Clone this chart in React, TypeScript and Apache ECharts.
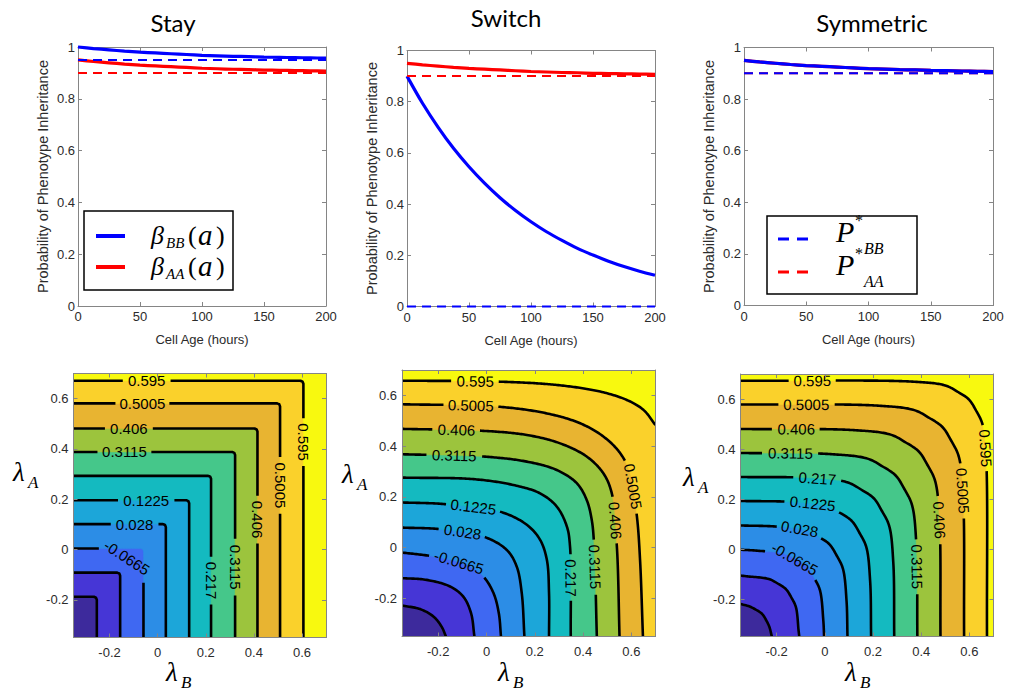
import React, { useEffect, useRef } from 'react';
import * as echarts from 'echarts';

// ---------------- DATA ----------------
const AGES = [0, 12.5, 25, 37.5, 50, 62.5, 75, 87.5, 100, 112.5, 125, 137.5, 150, 162.5, 175, 187.5, 200];

const STAY_BETA_BB = [1.0, 0.994, 0.989, 0.984, 0.98, 0.977, 0.974, 0.971, 0.968, 0.966, 0.964, 0.963, 0.961, 0.96, 0.959, 0.958, 0.957];
const STAY_BETA_AA = [0.95, 0.944, 0.939, 0.934, 0.93, 0.927, 0.924, 0.921, 0.918, 0.916, 0.914, 0.913, 0.911, 0.91, 0.909, 0.908, 0.907];
const STAY_P_BB = 0.95;
const STAY_P_AA = 0.9;

const SWITCH_BETA_BB = [0.9, 0.794, 0.701, 0.618, 0.546, 0.482, 0.425, 0.375, 0.331, 0.292, 0.258, 0.227, 0.201, 0.177, 0.156, 0.138, 0.122];
const SWITCH_BETA_AA = [0.95, 0.944, 0.939, 0.934, 0.93, 0.927, 0.924, 0.921, 0.918, 0.916, 0.914, 0.913, 0.911, 0.91, 0.909, 0.908, 0.907];
const SWITCH_P_BB = 0;
const SWITCH_P_AA = 0.9;

const SYM_BETA_BB = [0.95, 0.944, 0.939, 0.934, 0.93, 0.927, 0.924, 0.921, 0.918, 0.916, 0.914, 0.913, 0.911, 0.91, 0.909, 0.908, 0.907];
const SYM_BETA_AA = [0.95, 0.944, 0.939, 0.934, 0.93, 0.927, 0.924, 0.921, 0.918, 0.916, 0.914, 0.913, 0.911, 0.91, 0.909, 0.908, 0.907];
const SYM_P_BB = 0.9;
const SYM_P_AA = 0.9;

const TOP_TITLES = ['Stay', 'Switch', 'Symmetric'];

// contour levels (lambda plane)
const LEVELS = [-0.2555, -0.161, -0.0665, 0.028, 0.1225, 0.217, 0.3115, 0.406, 0.5005, 0.595];
const LAMBDA_MIN = -0.35;
const LAMBDA_MAX = 0.7;

// contour lines, [lambdaB, lambdaA] points, one list per level (lowest first)
const STAY_CONTOURS = [
  [[-0.35, -0.188], [-0.265, -0.188], [-0.2565, -0.1915], [-0.253, -0.2], [-0.253, -0.35]],
  [[-0.35, -0.092], [-0.168, -0.092], [-0.1595, -0.0955], [-0.156, -0.104], [-0.156, -0.35]],
  [[-0.35, 0.004], [-0.071, 0.004], [-0.0625, 0.0005], [-0.059, -0.008], [-0.059, -0.35]],
  [[-0.35, 0.101], [0.022, 0.101], [0.0305, 0.0975], [0.034, 0.089], [0.034, -0.35]],
  [[-0.35, 0.196], [0.119, 0.196], [0.1275, 0.1925], [0.131, 0.184], [0.131, -0.35]],
  [[-0.35, 0.293], [0.21, 0.293], [0.2185, 0.2895], [0.222, 0.281], [0.222, -0.35]],
  [[-0.35, 0.388], [0.31, 0.388], [0.3185, 0.3845], [0.322, 0.376], [0.322, -0.35]],
  [[-0.35, 0.481], [0.403, 0.481], [0.4115, 0.4775], [0.415, 0.469], [0.415, -0.35]],
  [[-0.35, 0.581], [0.497, 0.581], [0.5055, 0.5775], [0.509, 0.569], [0.509, -0.35]],
  [[-0.35, 0.671], [0.594, 0.671], [0.6025, 0.6675], [0.606, 0.659], [0.606, -0.35]],
];

const SWITCH_CONTOURS = [
  [[-0.35, -0.228], [-0.275, -0.242], [-0.22, -0.271], [-0.186, -0.311], [-0.168, -0.35]],
  [[-0.35, -0.12], [-0.248, -0.127], [-0.151, -0.153], [-0.096, -0.193], [-0.064, -0.258], [-0.05, -0.35]],
  [[-0.35, -0.019], [-0.22, -0.035], [-0.082, -0.068], [-0.013, -0.114], [0.029, -0.179], [0.051, -0.258], [0.06, -0.35]],
  [[-0.35, 0.079], [-0.192, 0.073], [-0.013, 0.044], [0.084, -0.009], [0.125, -0.074], [0.146, -0.179], [0.157, -0.35]],
  [[-0.35, 0.178], [-0.179, 0.172], [0.056, 0.142], [0.167, 0.09], [0.222, 0.031], [0.25, -0.048], [0.259, -0.179], [0.259, -0.35]],
  [[-0.35, 0.276], [-0.054, 0.27], [0.111, 0.247], [0.222, 0.214], [0.291, 0.162], [0.333, 0.083], [0.346, 0.004], [0.349, -0.35]],
  [[-0.35, 0.368], [-0.013, 0.359], [0.167, 0.339], [0.291, 0.306], [0.374, 0.254], [0.415, 0.188], [0.436, 0.109], [0.446, 0.004], [0.457, -0.35]],
  [[-0.35, 0.468], [-0.027, 0.461], [0.167, 0.444], [0.305, 0.411], [0.415, 0.359], [0.484, 0.293], [0.519, 0.214], [0.54, 0.004], [0.551, -0.35]],
  [[-0.35, 0.565], [0.042, 0.556], [0.25, 0.529], [0.388, 0.49], [0.484, 0.438], [0.554, 0.372], [0.595, 0.293], [0.623, 0.123], [0.636, -0.048], [0.648, -0.35]],
  [[-0.35, 0.658], [0.056, 0.654], [0.291, 0.641], [0.471, 0.615], [0.581, 0.582], [0.65, 0.543], [0.7, 0.483]],
];

const SYM_CONTOURS = [
  [[-0.35, -0.22], [-0.312, -0.23], [-0.284, -0.244], [-0.26, -0.26], [-0.244, -0.284], [-0.23, -0.312], [-0.22, -0.35]],
  [[-0.35, -0.106], [-0.326, -0.109], [-0.2325, -0.12], [-0.194, -0.139], [-0.161, -0.161], [-0.139, -0.194], [-0.12, -0.2325], [-0.109, -0.326], [-0.106, -0.35]],
  [[-0.35, -0.003], [-0.283, -0.0065], [-0.164, -0.0205], [-0.115, -0.045], [-0.073, -0.073], [-0.045, -0.115], [-0.0205, -0.164], [-0.0065, -0.283], [-0.003, -0.35]],
  [[-0.35, 0.094], [-0.206, 0.09], [-0.0785, 0.075], [-0.026, 0.049], [0.019, 0.019], [0.049, -0.026], [0.075, -0.0785], [0.09, -0.206], [0.094, -0.35]],
  [[-0.35, 0.192], [-0.128, 0.188], [0.008, 0.172], [0.064, 0.144], [0.112, 0.112], [0.144, 0.064], [0.172, 0.008], [0.188, -0.128], [0.192, -0.35]],
  [[-0.35, 0.288], [-0.052, 0.284], [0.0925, 0.267], [0.152, 0.237], [0.203, 0.203], [0.237, 0.152], [0.267, 0.0925], [0.284, -0.052], [0.288, -0.35]],
  [[-0.35, 0.384], [0.024, 0.3795], [0.177, 0.3615], [0.24, 0.33], [0.294, 0.294], [0.33, 0.24], [0.3615, 0.177], [0.3795, 0.024], [0.384, -0.35]],
  [[-0.35, 0.48], [0.12, 0.4755], [0.273, 0.4575], [0.336, 0.426], [0.39, 0.39], [0.426, 0.336], [0.4575, 0.273], [0.4755, 0.12], [0.48, -0.35]],
  [[-0.35, 0.578], [0.218, 0.5735], [0.371, 0.5555], [0.434, 0.524], [0.488, 0.488], [0.524, 0.434], [0.5555, 0.371], [0.5735, 0.218], [0.578, -0.35]],
  [[-0.35, 0.673], [0.373, 0.669], [0.5, 0.654], [0.553, 0.628], [0.598, 0.598], [0.628, 0.553], [0.654, 0.5], [0.669, 0.373], [0.673, -0.35]],
];

// inline contour labels: [level index, lambdaB, lambdaA, fixed angle (deg, clockwise) or null]
const STAY_LABELS: any[] = [
  [9, -0.045, 0.671, null], [8, -0.066, 0.581, null], [7, -0.117, 0.481, null], [6, -0.139, 0.388, null],
  [4, -0.045, 0.196, null], [3, -0.094, 0.101, null], [2, -0.128, -0.032, 33],
  [5, 0.222, -0.122, null], [6, 0.322, -0.07, null], [7, 0.415, 0.117, null], [8, 0.509, 0.256, null], [9, 0.606, 0.428, null],
];
const SWITCH_LABELS: any[] = [
  [9, -0.047, 0.655, null], [8, -0.068, 0.556, null], [7, -0.123, 0.461, null], [6, -0.137, 0.359, null],
  [4, -0.054, 0.149, null], [3, -0.103, 0.054, null], [2, -0.117, -0.064, null],
  [5, 0.339, -0.12, null], [6, 0.439, -0.074, null], [7, 0.523, 0.109, null], [8, 0.613, 0.241, null],
];
const SYM_LABELS: any[] = [
  [9, -0.053, 0.669, null], [8, -0.074, 0.576, null], [7, -0.122, 0.476, null], [6, -0.143, 0.379, null],
  [5, -0.032, 0.279, null], [4, -0.053, 0.172, null], [3, -0.108, 0.07, null], [2, -0.129, -0.05, null],
  [6, 0.38, -0.07, null], [7, 0.47, 0.116, null], [8, 0.565, 0.236, null], [9, 0.66, 0.403, null],
];

// ---------------- STYLE ----------------
const BAND_COLORS = ['#3d2a9c', '#4636d6', '#3f68f2', '#2c8de6', '#1ca6d9', '#14bac0', '#45c78a', '#9cc43d', '#e8b431', '#fad12b', '#f8f90f'];
const SANS = '"Liberation Sans", Arial, Helvetica, sans-serif';
const SERIF = '"Liberation Serif", "DejaVu Serif", serif';
const TITLE_FONT = 'Lato, "Open Sans", sans-serif';
const AXIS_COLOR = '#858585';
const TEXT_COLOR = '#2b2b2b';
const LABEL_FS = 15;

const TOP_GRIDS = [
  { left: 78, top: 47, width: 248, height: 259 },
  { left: 407, top: 50.5, width: 248, height: 256 },
  { left: 744, top: 47.5, width: 249, height: 258 },
];
const BOT_GRIDS = [
  { left: 73.5, top: 373.5, width: 252.5, height: 264 },
  { left: 402, top: 370, width: 253.5, height: 266.5 },
  { left: 740.5, top: 374, width: 253, height: 262.5 },
];

function textWidth(s: string, fs: number) {
  let w = 0;
  for (const ch of s) w += ch === '.' ? 0.278 : ch === '-' ? 0.333 : 0.556;
  return w * fs;
}

function densify(px: number[][], smooth: boolean): number[][] {
  const out: number[][] = [];
  const n = px.length;
  const get = (i: number) => {
    if (i < 0) return [2 * px[0][0] - px[1][0], 2 * px[0][1] - px[1][1]];
    if (i >= n) return [2 * px[n - 1][0] - px[n - 2][0], 2 * px[n - 1][1] - px[n - 2][1]];
    return px[i];
  };
  for (let i = 0; i < n - 1; i++) {
    const p1 = px[i], p2 = px[i + 1];
    const len = Math.hypot(p2[0] - p1[0], p2[1] - p1[1]);
    const steps = Math.max(1, Math.ceil(len / 1.5));
    if (!smooth) {
      for (let s = 0; s < steps; s++) out.push([p1[0] + (p2[0] - p1[0]) * s / steps, p1[1] + (p2[1] - p1[1]) * s / steps]);
      continue;
    }
    const p0 = get(i - 1), p3 = get(i + 2);
    const dt = (a: number[], b: number[]) => Math.max(Math.sqrt(Math.hypot(b[0] - a[0], b[1] - a[1])), 1e-3);
    const t0 = 0, t1 = dt(p0, p1), t2 = t1 + dt(p1, p2), t3 = t2 + dt(p2, p3);
    for (let s = 0; s < steps; s++) {
      const t = t1 + (t2 - t1) * s / steps;
      const L = (a: number[], b: number[], ta: number, tb: number) => {
        const u = (t - ta) / (tb - ta);
        return [a[0] + (b[0] - a[0]) * u, a[1] + (b[1] - a[1]) * u];
      };
      const A1 = L(p0, p1, t0, t1), A2 = L(p1, p2, t1, t2), A3 = L(p2, p3, t2, t3);
      const B1 = L(A1, A2, t0, t2), B2 = L(A2, A3, t1, t3);
      out.push(L(B1, B2, t1, t2));
    }
  }
  out.push(px[n - 1]);
  return out;
}

function contourRenderer(contours: number[][][], labels: any[], smooth: boolean) {
  return (params: any, api: any) => {
    const c = (p: number[]) => api.coord(p);
    const tl = c([LAMBDA_MIN, LAMBDA_MAX]);
    const br = c([LAMBDA_MAX, LAMBDA_MIN]);
    const children: any[] = [];
    children.push({
      type: 'rect',
      shape: { x: tl[0], y: tl[1], width: br[0] - tl[0], height: br[1] - tl[1] },
      style: { fill: BAND_COLORS[0] },
    });
    const dense = contours.map((cv) => densify(cv.map(c), smooth));
    contours.forEach((cv, i) => {
      const last = cv[cv.length - 1];
      const closing = last[1] <= LAMBDA_MIN + 1e-9
        ? [[LAMBDA_MAX, LAMBDA_MIN], [LAMBDA_MAX, LAMBDA_MAX], [LAMBDA_MIN, LAMBDA_MAX]]
        : [[LAMBDA_MAX, LAMBDA_MAX], [LAMBDA_MIN, LAMBDA_MAX]];
      children.push({
        type: 'polygon',
        shape: { points: dense[i].concat(closing.map(c)) },
        style: { fill: BAND_COLORS[i + 1], stroke: BAND_COLORS[i + 1], lineWidth: 0.5 },
      });
    });
    const cuts: number[][][] = contours.map(() => []);
    const texts: any[] = [];
    labels.forEach(([li, x, y, ang]) => {
      const a = c([x, y]);
      let cx = a[0], cy = a[1];
      let theta = 0;
      if (ang == null) {
        const pts = dense[li];
        let best = 0, bd = Infinity;
        pts.forEach((p, j) => {
          const d = (p[0] - a[0]) ** 2 + (p[1] - a[1]) ** 2;
          if (d < bd) { bd = d; best = j; }
        });
        cx = pts[best][0]; cy = pts[best][1];
        const q0 = pts[Math.max(0, best - 5)], q1 = pts[Math.min(pts.length - 1, best + 5)];
        theta = Math.atan2(q1[1] - q0[1], q1[0] - q0[0]) * 180 / Math.PI;
        if (theta > 95) theta -= 180;
        if (theta <= -85) theta += 180;
      } else {
        theta = ang;
      }
      const txt = String(LEVELS[li]);
      const w = textWidth(txt, LABEL_FS);
      cuts[li].push([cx, cy, w / 2 + 4]);
      texts.push({
        type: 'text',
        x: cx, y: cy,
        rotation: -theta * Math.PI / 180,
        style: {
          text: txt, fill: '#000', font: `${LABEL_FS}px ${SANS}`,
          align: 'center', verticalAlign: 'middle', textAlign: 'center', textVerticalAlign: 'middle',
        },
      });
    });
    dense.forEach((pts, i) => {
      let run: number[][] = [];
      const flush = () => {
        if (run.length >= 2) {
          children.push({
            type: 'polyline',
            shape: { points: run },
            style: { stroke: '#000', lineWidth: 2.6, fill: 'none', lineJoin: 'round' },
          });
        }
        run = [];
      };
      pts.forEach((p) => {
        const inGap = cuts[i].some((g) => Math.hypot(p[0] - g[0], p[1] - g[1]) < g[2]);
        if (inGap) flush(); else run.push(p);
      });
      flush();
    });
    return { type: 'group', children: children.concat(texts) };
  };
}

function fmtLambda(v: number) {
  const k = v / 0.2;
  if (Math.abs(k - Math.round(k)) > 1e-6) return '';
  const r = Math.round(v * 10) / 10;
  return String(r === 0 ? 0 : r);
}

function buildOption() {
  const grids = [...TOP_GRIDS, ...BOT_GRIDS];
  const xAxis: any[] = [];
  const yAxis: any[] = [];
  grids.forEach((g, gi) => {
    const top = gi < 3;
    const xr: any = top ? { min: 0, max: 200, interval: 50 } : { min: LAMBDA_MIN, max: LAMBDA_MAX, splitNumber: 5 };
    const yr: any = top ? { min: 0, max: 1, interval: 0.2 } : { min: LAMBDA_MIN, max: LAMBDA_MAX, splitNumber: 5 };
    const common = {
      gridIndex: gi,
      z: top ? 0 : 5,
      axisLine: { show: true, onZero: false, lineStyle: { color: AXIS_COLOR, width: 1 } },
      axisTick: { show: true, inside: true, length: 4, lineStyle: { color: AXIS_COLOR, width: 1 } },
      splitLine: { show: false },
    };
    xAxis.push({
      ...common, ...xr, type: 'value', position: 'bottom',
      name: top ? 'Cell Age (hours)' : '',
      nameLocation: 'middle', nameGap: 27,
      nameTextStyle: { fontSize: 13, color: TEXT_COLOR, fontFamily: SANS },
      axisLabel: {
        show: true, color: TEXT_COLOR, fontSize: 13, fontFamily: SANS, margin: top ? 4 : 8,
        showMinLabel: top, showMaxLabel: top,
        formatter: top ? undefined : fmtLambda,
      },
    });
    xAxis.push({ ...common, ...xr, type: 'value', position: 'top', axisLabel: { show: false } });
    yAxis.push({
      ...common, ...yr, type: 'value', position: 'left',
      name: top ? 'Probability of Phenotype Inheritance' : '',
      nameLocation: 'middle', nameGap: 28,
      nameTextStyle: { fontSize: 14.5, color: TEXT_COLOR, fontFamily: SANS },
      axisLabel: {
        show: true, color: TEXT_COLOR, fontSize: 13, fontFamily: SANS, margin: top ? 3 : 5,
        showMinLabel: top, showMaxLabel: top,
        formatter: top ? undefined : fmtLambda,
      },
    });
    yAxis.push({ ...common, ...yr, type: 'value', position: 'right', axisLabel: { show: false } });
  });

  const line = (gi: number, ys: number[], color: string, z: number) => ({
    type: 'line', xAxisIndex: 2 * gi, yAxisIndex: 2 * gi, symbol: 'none', smooth: 0.3,
    clip: false, z, silent: true,
    data: AGES.map((a, i) => [a, ys[i]]),
    lineStyle: { color, width: 3.2 },
  });
  const dashed = (gi: number, v: number, color: string, z: number) => ({
    type: 'line', xAxisIndex: 2 * gi, yAxisIndex: 2 * gi, symbol: 'none', clip: false, z, silent: true,
    data: [[AGES[0], v], [AGES[AGES.length - 1], v]],
    lineStyle: { color, width: 2, type: [9, 6] },
  });
  const BLUE = '#0000ff';
  const RED = '#ff0000';
  const series: any[] = [
    line(0, STAY_BETA_BB, BLUE, 2), line(0, STAY_BETA_AA, RED, 3), dashed(0, STAY_P_BB, BLUE, 4), dashed(0, STAY_P_AA, RED, 5),
    line(1, SWITCH_BETA_BB, BLUE, 2), line(1, SWITCH_BETA_AA, RED, 3), dashed(1, SWITCH_P_BB, BLUE, 4), dashed(1, SWITCH_P_AA, RED, 5),
    line(2, SYM_BETA_AA, RED, 2), dashed(2, SYM_P_AA, RED, 3), line(2, SYM_BETA_BB, BLUE, 4), dashed(2, SYM_P_BB, BLUE, 5),
  ];
  const contourSets: [number[][][], any[], boolean][] = [
    [STAY_CONTOURS, STAY_LABELS, false],
    [SWITCH_CONTOURS, SWITCH_LABELS, true],
    [SYM_CONTOURS, SYM_LABELS, true],
  ];
  contourSets.forEach(([cs, ls, sm], k) => {
    series.push({
      type: 'custom', coordinateSystem: 'cartesian2d',
      xAxisIndex: 2 * (3 + k), yAxisIndex: 2 * (3 + k),
      data: [[0, 0]], silent: true, clip: true, z: 1,
      renderItem: contourRenderer(cs, ls, sm),
    });
  });

  const t = (text: string, x: number, y: number, font: string, extra: any = {}) => ({
    type: 'text', x, y, z: 20, silent: true,
    style: { text, font, fill: '#000', align: 'left', verticalAlign: 'middle', textAlign: 'left', textVerticalAlign: 'middle', ...extra },
  });
  const title = (text: string, x: number, y: number) =>
    t(text, x, y, `24px ${TITLE_FONT}`, { align: 'center', textAlign: 'center' });

  const graphic: any[] = [
    title(TOP_TITLES[0], 173, 22),
    title(TOP_TITLES[1], 506, 17),
    title(TOP_TITLES[2], 872, 22),
    // Stay legend
    { type: 'rect', z: 20, shape: { x: 84, y: 211, width: 149, height: 79 }, style: { fill: '#fff', stroke: '#000', lineWidth: 1.5 } },
    { type: 'line', z: 21, shape: { x1: 96, y1: 236, x2: 125, y2: 236 }, style: { stroke: BLUE, lineWidth: 4 } },
    { type: 'line', z: 21, shape: { x1: 96, y1: 267, x2: 125, y2: 267 }, style: { stroke: RED, lineWidth: 4 } },
    t('β', 151, 235, `italic 26px ${SERIF}`),
    t('BB', 166, 243, `italic 15px ${SERIF}`),
    t('(', 188, 235, `26px ${SERIF}`),
    t('a', 198, 235, `italic 29px ${SERIF}`),
    t(')', 216, 235, `26px ${SERIF}`),
    t('β', 151, 266, `italic 26px ${SERIF}`),
    t('AA', 166, 274, `italic 15px ${SERIF}`),
    t('(', 188, 266, `26px ${SERIF}`),
    t('a', 198, 266, `italic 29px ${SERIF}`),
    t(')', 216, 266, `26px ${SERIF}`),
    // Symmetric legend
    { type: 'rect', z: 20, shape: { x: 767, y: 216, width: 150, height: 78 }, style: { fill: '#fff', stroke: '#000', lineWidth: 1.5 } },
    { type: 'line', z: 21, shape: { x1: 778, y1: 239, x2: 808, y2: 239 }, style: { stroke: BLUE, lineWidth: 3, lineDash: [11, 8] } },
    { type: 'line', z: 21, shape: { x1: 778, y1: 272, x2: 808, y2: 272 }, style: { stroke: RED, lineWidth: 3, lineDash: [11, 8] } },
    t('P', 836, 231, `italic 30px ${SERIF}`),
    t('*', 855, 220, `16px ${SERIF}`),
    t('BB', 864, 248, `italic 16px ${SERIF}`),
    t('P', 836, 264, `italic 30px ${SERIF}`),
    t('*', 855, 253, `16px ${SERIF}`),
    t('AA', 864, 281, `italic 16px ${SERIF}`),
    // lambda axis names
    t('λ', 166, 672, `italic 27px ${SERIF}`), t('B', 181, 682, `italic 17px ${SERIF}`),
    t('λ', 498, 672, `italic 27px ${SERIF}`), t('B', 513, 682, `italic 17px ${SERIF}`),
    t('λ', 845, 672, `italic 27px ${SERIF}`), t('B', 860, 682, `italic 17px ${SERIF}`),
    t('λ', 13, 472, `italic 27px ${SERIF}`), t('A', 28, 482, `italic 17px ${SERIF}`),
    t('λ', 342, 474, `italic 27px ${SERIF}`), t('A', 357, 484, `italic 17px ${SERIF}`),
    t('λ', 683, 477, `italic 27px ${SERIF}`), t('A', 698, 487, `italic 17px ${SERIF}`),
  ];

  return {
    animation: false,
    backgroundColor: '#fff',
    grid: grids.map((g) => ({ ...g, containLabel: false })),
    xAxis,
    yAxis,
    series,
    graphic,
  };
}

export default function App() {
  const ref = useRef<HTMLDivElement>(null);
  useEffect(() => {
    const chart = echarts.init(ref.current as HTMLDivElement, undefined, { renderer: 'svg' });
    chart.setOption(buildOption() as any);
    return () => chart.dispose();
  }, []);
  return <div ref={ref} style={{ position: 'fixed', left: 0, top: 0, width: 1020, height: 690, background: '#fff' }} />;
}
